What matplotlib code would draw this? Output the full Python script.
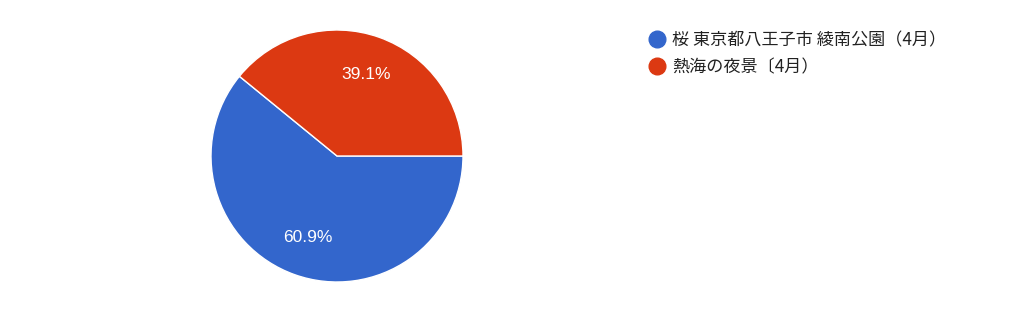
import matplotlib
matplotlib.use("Agg")
import matplotlib.pyplot as plt
from matplotlib.lines import Line2D

labels = ["桜 東京都八王子市 綾南公園（4月）", "熱海の夜景〔4月）"]
shares = [60.9, 39.1]
colors = ["#3366cc", "#dc3912"]

W, H = 1024, 329
fig = plt.figure(figsize=(W / 100, H / 100), dpi=100)

cx, cy, r = 337, 156, 126
ax = fig.add_axes([(cx - r) / W, (H - cy - r) / H, 2 * r / W, 2 * r / H])
ax.pie(shares, colors=colors, startangle=0, counterclock=False,
       autopct="%.1f%%", pctdistance=0.69,
       wedgeprops=dict(edgecolor="white", linewidth=1),
       textprops=dict(color="white", fontsize=12.5, family="Liberation Sans"))
ax.set_aspect("equal")
ax.set_xlim(-1, 1)
ax.set_ylim(-1, 1)

handles = [Line2D([], [], marker="o", linestyle="", markersize=12,
                  markerfacecolor=c, markeredgecolor=c) for c in colors]
fig.legend(handles, labels, loc="upper left",
           bbox_to_anchor=(631 / W, 1 - 16 / H), frameon=False,
           handletextpad=0.3, labelspacing=0.5, handlelength=1.2,
           prop=dict(family=["Noto Sans CJK JP", "DejaVu Sans"], size=12.3),
           labelcolor="#222222")

fig.savefig("out.png", dpi=100)
